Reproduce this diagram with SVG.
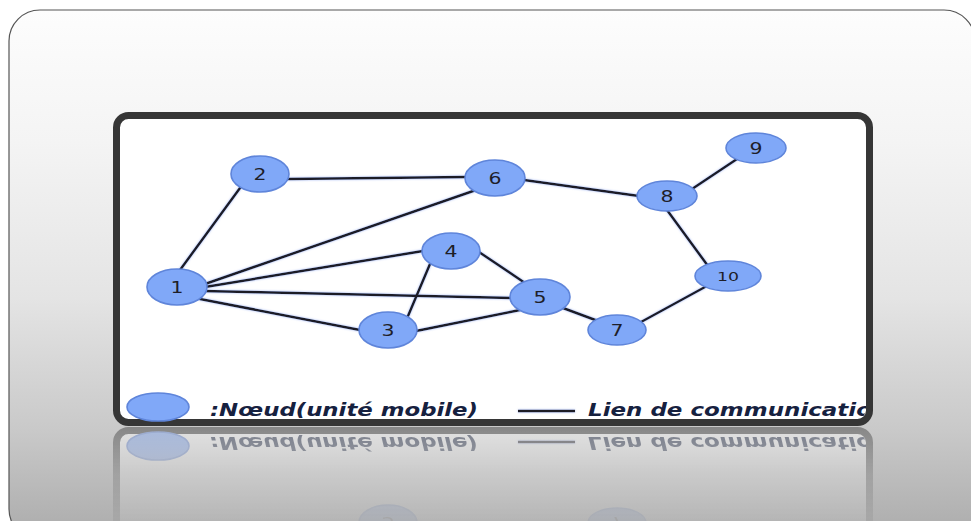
<svg xmlns="http://www.w3.org/2000/svg" xmlns:xlink="http://www.w3.org/1999/xlink" width="971" height="521" viewBox="0 0 971 521">
  <defs>
    <linearGradient id="bg" x1="0" y1="10" x2="0" y2="535" gradientUnits="userSpaceOnUse">
      <stop offset="0" stop-color="#fdfdfd"/>
      <stop offset="0.25" stop-color="#f4f4f4"/>
      <stop offset="0.55" stop-color="#e4e4e4"/>
      <stop offset="0.8" stop-color="#c9c9c9"/>
      <stop offset="1" stop-color="#acacac"/>
    </linearGradient>
    <linearGradient id="fade" x1="0" y1="427" x2="0" y2="521" gradientUnits="userSpaceOnUse">
      <stop offset="0" stop-color="#fff" stop-opacity="0.45"/>
      <stop offset="0.5" stop-color="#fff" stop-opacity="0.2"/>
      <stop offset="1" stop-color="#fff" stop-opacity="0.07"/>
    </linearGradient>
    <mask id="reflMask" maskUnits="userSpaceOnUse" x="0" y="427" width="971" height="100">
      <rect x="0" y="427" width="971" height="100" fill="url(#fade)"/>
    </mask>
    <clipPath id="boxClip">
      <rect x="120" y="119" width="746" height="300" rx="9"/>
    </clipPath>
    <filter id="glow" filterUnits="userSpaceOnUse" x="100" y="100" width="800" height="340">
      <feGaussianBlur in="SourceAlpha" stdDeviation="1.2" result="b"/>
      <feFlood flood-color="#8fa8f0" flood-opacity="0.8"/>
      <feComposite in2="b" operator="in" result="g"/>
      <feMerge><feMergeNode in="g"/><feMergeNode in="SourceGraphic"/></feMerge>
    </filter>
    <style>
      .node ellipse { fill: #80a8f8; stroke: #5f85da; stroke-width: 1.6; }
      .node text { font-family: "DejaVu Sans", Verdana, sans-serif; font-size: 16.5px; fill: #1e1e28; text-anchor: middle; }
      .node text.small { font-size: 12.5px; }
      .edge { stroke: #1a1a26; stroke-width: 2.5; stroke-linecap: round; fill: none; }
      .legend { font-family: "DejaVu Sans", Verdana, sans-serif; font-weight: bold; font-style: italic; font-size: 18px; fill: #16213f; }
    </style>
  </defs>

  <rect x="0" y="0" width="971" height="521" fill="#ffffff"/>
  <rect id="panel" x="9" y="10" width="966" height="530" rx="31" fill="url(#bg)" stroke="#555" stroke-width="1.2"/>

  <g id="content">
    <rect id="frame" x="116.5" y="115.5" width="753" height="307" rx="12" fill="#ffffff" stroke="#363636" stroke-width="7"/>

    <g id="connectors" filter="url(#glow)">
      <line class="edge" x1="180" y1="270" x2="240" y2="188"/>
      <line class="edge" x1="288" y1="179" x2="466" y2="177"/>
      <line class="edge" x1="205" y1="284" x2="476" y2="190"/>
      <line class="edge" x1="205" y1="287" x2="423" y2="251"/>
      <line class="edge" x1="203" y1="291" x2="512" y2="298"/>
      <line class="edge" x1="200" y1="299" x2="360" y2="330"/>
      <line class="edge" x1="430" y1="264" x2="408" y2="316"/>
      <line class="edge" x1="479" y1="252" x2="525" y2="283"/>
      <line class="edge" x1="416" y1="331" x2="520" y2="310"/>
      <line class="edge" x1="563" y1="308" x2="598" y2="321"/>
      <line class="edge" x1="641" y1="322" x2="705" y2="287"/>
      <line class="edge" x1="708" y1="266" x2="667" y2="210"/>
      <line class="edge" x1="524" y1="180" x2="639" y2="196"/>
      <line class="edge" x1="692" y1="189" x2="737" y2="159"/>
    </g>

    <g id="n1" class="node"><ellipse cx="177" cy="287" rx="30" ry="18"/><text x="177" y="293" textLength="13" lengthAdjust="spacingAndGlyphs">1</text></g>
    <g id="n2" class="node"><ellipse cx="260" cy="174" rx="29" ry="18"/><text x="260" y="180" textLength="13" lengthAdjust="spacingAndGlyphs">2</text></g>
    <g id="n3" class="node"><ellipse cx="388" cy="330" rx="29" ry="18"/><text x="388" y="336" textLength="13" lengthAdjust="spacingAndGlyphs">3</text></g>
    <g id="n4" class="node"><ellipse cx="451" cy="251" rx="29" ry="18"/><text x="451" y="257" textLength="13" lengthAdjust="spacingAndGlyphs">4</text></g>
    <g id="n5" class="node"><ellipse cx="540" cy="297" rx="30" ry="18"/><text x="540" y="303" textLength="13" lengthAdjust="spacingAndGlyphs">5</text></g>
    <g id="n6" class="node"><ellipse cx="495" cy="178" rx="30" ry="18"/><text x="495" y="184" textLength="13" lengthAdjust="spacingAndGlyphs">6</text></g>
    <g id="n7" class="node"><ellipse cx="617" cy="330" rx="29" ry="15"/><text x="617" y="336" textLength="13" lengthAdjust="spacingAndGlyphs">7</text></g>
    <g id="n8" class="node"><ellipse cx="667" cy="196" rx="30" ry="15"/><text x="667" y="202" textLength="13" lengthAdjust="spacingAndGlyphs">8</text></g>
    <g id="n9" class="node"><ellipse cx="756" cy="148" rx="30" ry="15"/><text x="756" y="154" textLength="13" lengthAdjust="spacingAndGlyphs">9</text></g>
    <g id="n10" class="node"><ellipse cx="728" cy="276" rx="33" ry="15"/><text class="small" x="728" y="281" textLength="22" lengthAdjust="spacingAndGlyphs">10</text></g>

    <g id="legend">
      <g class="node"><ellipse cx="158" cy="407" rx="31" ry="14"/></g>
      <text class="legend" x="210" y="416" textLength="268" lengthAdjust="spacingAndGlyphs">:Nœud(unité mobile)</text>
      <line x1="518" y1="411" x2="575" y2="411" stroke="#1a1a26" stroke-width="2.5" filter="url(#glow)"/>
      <g clip-path="url(#boxClip)">
        <text class="legend" x="588" y="416" textLength="284" lengthAdjust="spacingAndGlyphs">Lien de communicatio</text>
      </g>
    </g>
  </g>

  <g id="reflection" mask="url(#reflMask)">
    <use xlink:href="#content" href="#content" transform="translate(0,853) scale(1,-1)"/>
  </g>
</svg>
